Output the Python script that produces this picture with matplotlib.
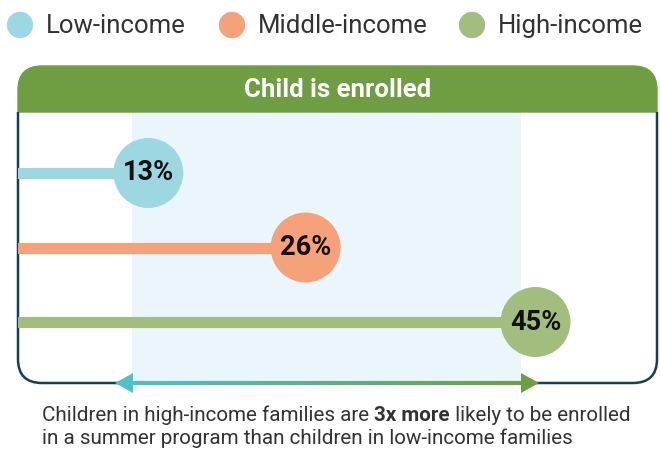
import matplotlib
matplotlib.use("Agg")
import matplotlib.pyplot as plt
import numpy as np
from matplotlib.path import Path
from matplotlib.patches import PathPatch, Rectangle, Polygon
from matplotlib.collections import LineCollection

# ---------------- data ----------------
categories = ["Low-income", "Middle-income", "High-income"]
values = [13, 26, 45]
value_labels = ["13%", "26%", "45%"]
colors = ["#9dd7e2", "#f5a27a", "#a2bd7e"]
header_title = "Child is enrolled"
note_line1 = ["Children in high-income families are ", "3x more", " likely to be enrolled"]
note_line2 = "in a summer program than children in low-income families"

BODY = ["Roboto", "DejaVu Sans"]

W, H = 660, 449
fig = plt.figure(figsize=(6.6, 4.49), dpi=100)
fig.patch.set_facecolor("white")

bg = fig.add_axes([0, 0, 1, 1])
bg.set_xlim(0, W)
bg.set_ylim(H, 0)
bg.axis("off")

# box geometry (pixels)
L, R, T, HB, B = 18, 657, 66, 112, 383
shade_l, shade_r = 132, 521

# shaded band
bg.add_patch(Rectangle((shade_l, HB), shade_r - shade_l, B - HB, facecolor="#eaf6fb",
                       edgecolor="none", zorder=1))

# header with rounded top
r = 24
hverts = [(L, HB), (L, T + r), (L, T), (L + r, T), (R - r, T), (R, T), (R, T + r), (R, HB), (L, HB)]
hcodes = [Path.MOVETO, Path.LINETO, Path.CURVE3, Path.CURVE3, Path.LINETO, Path.CURVE3,
          Path.CURVE3, Path.LINETO, Path.CLOSEPOLY]
bg.add_patch(PathPatch(Path(hverts, hcodes), facecolor="#6f9e42", edgecolor="#6f9e42", lw=1, zorder=5))
bg.text((L + R) / 2, (T + HB) / 2 + 1, header_title, color="white", fontsize=18.5,
        fontweight="bold", family=BODY, ha="center", va="center", zorder=6)

# body border with rounded bottom corners
rb = 24
bverts = [(L, HB), (L, B - rb), (L, B), (L + rb, B), (R - rb, B), (R, B), (R, B - rb), (R, HB)]
bcodes = [Path.MOVETO, Path.LINETO, Path.CURVE3, Path.CURVE3, Path.LINETO, Path.CURVE3,
          Path.CURVE3, Path.LINETO]
bg.add_patch(PathPatch(Path(bverts, bcodes), facecolor="none", edgecolor="#173d5e", lw=1.8, zorder=5))

# gradient arrow along the bottom
ax0, ax1, ay = 115, 539, 383
head, hh = 18, 10
xs = np.linspace(ax0 + head - 2, ax1 - head + 2, 200)
segs = [[(xs[i], ay), (xs[i + 1], ay)] for i in range(len(xs) - 1)]
c0 = np.array(matplotlib.colors.to_rgb("#4fc1c9"))
c1 = np.array(matplotlib.colors.to_rgb("#6a9f44"))
tt = np.linspace(0, 1, len(segs))
seg_cols = [tuple(c0 * (1 - t) + c1 * t) for t in tt]
bg.add_collection(LineCollection(segs, colors=seg_cols, linewidths=3.0, zorder=7))
bg.add_patch(Polygon([(ax0, ay), (ax0 + head, ay - hh), (ax0 + head, ay + hh)], closed=True,
                     facecolor="#4fc1c9", edgecolor="none", zorder=8))
bg.add_patch(Polygon([(ax1, ay), (ax1 - head, ay - hh), (ax1 - head, ay + hh)], closed=True,
                     facecolor="#6a9f44", edgecolor="none", zorder=8))

# legend
leg_circle_x = [20, 232, 472]
for cx, name, col in zip(leg_circle_x, categories, colors):
    bg.scatter([cx], [25], s=360, color=col, edgecolor="none", zorder=3)
    bg.text(cx + 26, 26, name, fontsize=18.5, color="#333333", family=BODY,
            ha="left", va="center")

# ---------------- data axes ----------------
px0, pxper = -9.0, 12.1  # pixel of 0%, pixels per percent
ax = fig.add_axes([L / W, 1 - B / H, (R - L) / W, (B - HB) / H])
ax.patch.set_alpha(0)
ax.set_xlim((L - px0) / pxper, (R - px0) / pxper)
row_px = [173, 248, 322]
step = 74.5
ax.set_ylim((B - row_px[0]) / step, (HB - row_px[0]) / step)
ax.axis("off")
ys = np.arange(len(categories))
for y, v, lab, col in zip(ys, values, value_labels, colors):
    ax.hlines(y, 0, v, color=col, lw=8, zorder=2)
    ax.scatter([v], [y], s=2540, color=col, edgecolor="none", zorder=3, clip_on=False)
    ax.text(v, y, lab, fontsize=19.5, fontweight="bold", color="#111111",
            family=BODY, ha="center", va="center", zorder=4)

# ---------------- footnote ----------------
fig.canvas.draw()
renderer = fig.canvas.get_renderer()
x = 42
y1, y2 = 421, 444
inv = bg.transData.inverted()
for i, part in enumerate(note_line1):
    t = bg.text(x, y1, part, fontsize=14.9, color="#333333",
                fontweight="bold" if i == 1 else "normal",
                family=BODY, ha="left", va="baseline")
    bb = t.get_window_extent(renderer)
    x = inv.transform((bb.x1, bb.y0))[0]
bg.text(42, y2, note_line2, fontsize=14.9, color="#333333", family=BODY,
        ha="left", va="baseline")

fig.savefig("out.png", dpi=100)
